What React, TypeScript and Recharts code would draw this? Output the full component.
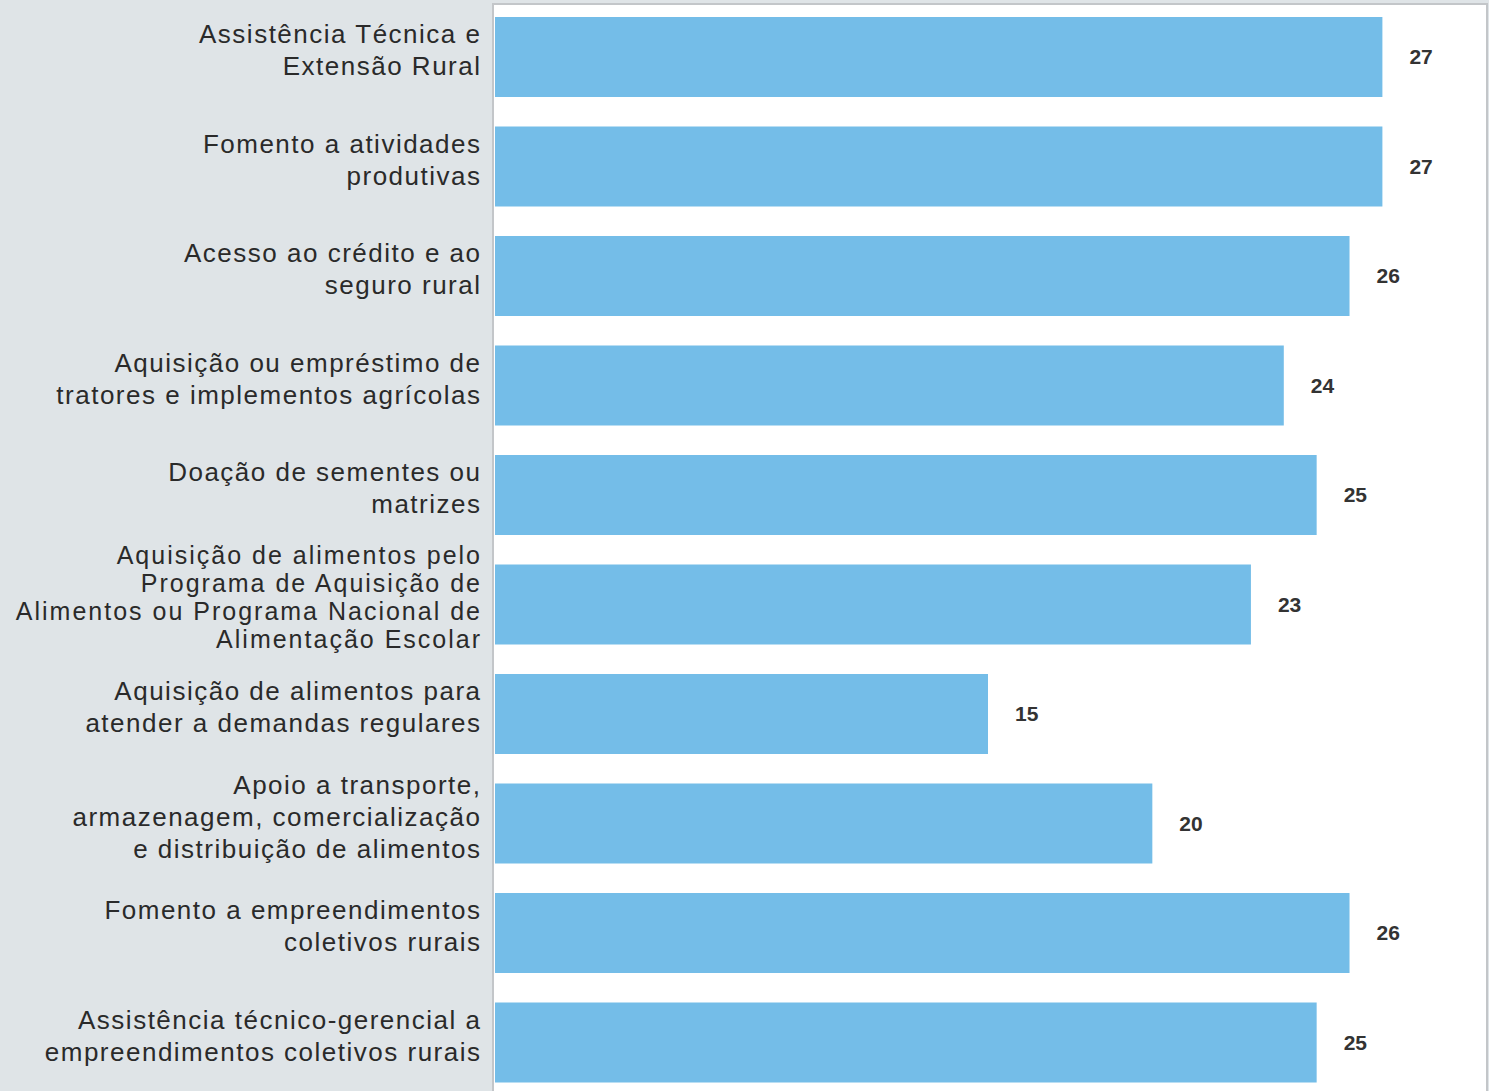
import React from 'react';
import { BarChart, Bar, XAxis, YAxis, LabelList } from 'recharts';

const categories = [
  'Assistência Técnica e\nExtensão Rural',
  'Fomento a atividades\nprodutivas',
  'Acesso ao crédito e ao\nseguro rural',
  'Aquisição ou empréstimo de\ntratores e implementos agrícolas',
  'Doação de sementes ou\nmatrizes',
  'Aquisição de alimentos pelo\nPrograma de Aquisição de\nAlimentos ou Programa Nacional de\nAlimentação Escolar',
  'Aquisição de alimentos para\natender a demandas regulares',
  'Apoio a transporte,\narmazenagem, comercialização\ne distribuição de alimentos',
  'Fomento a empreendimentos\ncoletivos rurais',
  'Assistência técnico-gerencial a\nempreendimentos coletivos rurais',
];

const values = [27, 27, 26, 24, 25, 23, 15, 20, 26, 25];

const data = categories.map((name, i) => ({ name, value: values[i] }));

const CategoryTick = (props: any) => {
  const { x, y, payload } = props;
  const lines: string[] = String(payload.value).split('\n');
  // the four-line label is packed tighter in the original
  const dense = lines.length > 3;
  const lh = dense ? 28 : 32;
  const fs = dense ? 25 : 26;
  const ls = dense ? 2 : 1.5;
  const start = y - 7 - ((lines.length - 1) * lh) / 2;
  const tx = x + ls; // compensate trailing letter spacing
  return (
    <text
      x={tx}
      y={start}
      textAnchor="end"
      fill="#2a2a2a"
      fontSize={fs}
      letterSpacing={ls}
      fontFamily="'Liberation Sans', Arial, sans-serif"
    >
      {lines.map((line, i) => (
        <tspan key={i} x={tx} y={start + i * lh} dy="0.36em">
          {line}
        </tspan>
      ))}
    </text>
  );
};

export default function App() {
  return (
    <div
      style={{
        position: 'absolute',
        left: 0,
        top: 0,
        width: 1489,
        height: 1091,
        overflow: 'hidden',
        background: '#dfe4e7',
      }}
    >
      <div
        style={{
          position: 'absolute',
          left: 492,
          top: 3,
          width: 992,
          height: 1200,
          background: '#ffffff',
          borderLeft: '2px solid #c3c6c9',
          borderTop: '2px solid #c3c6c9',
          borderRight: '2px solid #c3c6c9',
        }}
      />
      <div style={{ position: 'absolute', left: 0, top: 0 }}>
        <BarChart
          width={1489}
          height={1100}
          data={data}
          layout="vertical"
          margin={{ top: 2, right: 8, bottom: 3, left: 0 }}
          barSize={80}
        >
          <XAxis type="number" domain={[0, 30]} hide />
          <YAxis
            type="category"
            dataKey="name"
            width={495}
            axisLine={false}
            tickLine={false}
            tickSize={0}
            tickMargin={15}
            interval={0}
            tick={<CategoryTick />}
          />
          <Bar dataKey="value" fill="#74bde8" isAnimationActive={false}>
            <LabelList
              dataKey="value"
              position="right"
              offset={27}
              fill="#333333"
              fontSize={21}
              fontWeight={600}
              fontFamily="'Liberation Sans', Arial, sans-serif"
            />
          </Bar>
        </BarChart>
      </div>
    </div>
  );
}
